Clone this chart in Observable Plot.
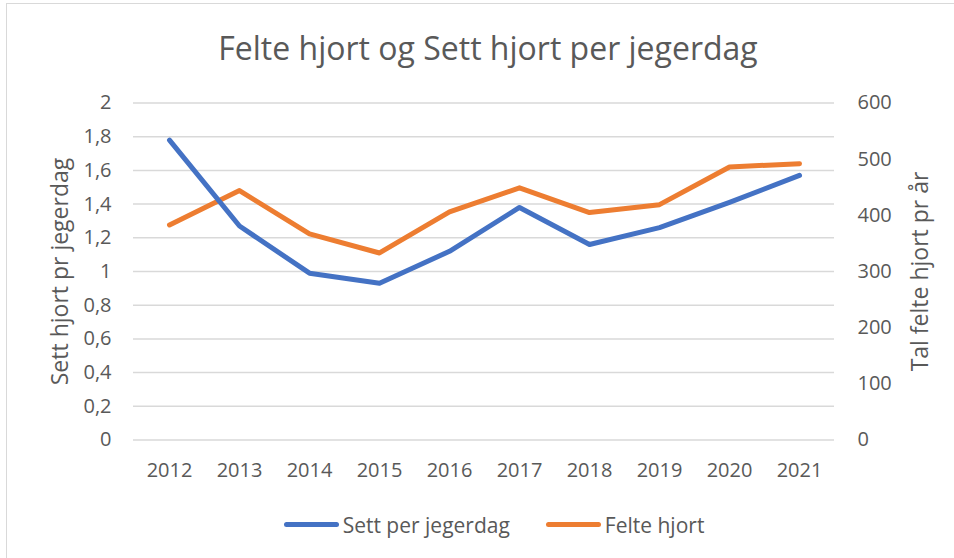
<!DOCTYPE html>
<html>
<head>
<meta charset="utf-8">
<script src="https://cdn.jsdelivr.net/npm/d3@7"></script>
<script src="https://cdn.jsdelivr.net/npm/@observablehq/plot@0.6"></script>
<style>
  html, body { margin: 0; padding: 0; background: #fff; }
  #wrap { position: relative; width: 954px; height: 558px; overflow: hidden; font-family: "Open Sans", sans-serif; }
  #border { position: absolute; left: 6px; top: 3px; width: 1000px; height: 600px; border: 1.5px solid #d9d9d9; box-sizing: border-box; pointer-events: none; }
  #legend { position: absolute; left: 17px; top: 500px; width: 954px; height: 49px; display: flex; justify-content: center; align-items: center; font-size: 21px; color: #595959; }
  .item { display: flex; align-items: center; }
  .sw { width: 55px; height: 5px; border-radius: 3px; margin-right: 4px; }
</style>
</head>
<body>
<div id="wrap">
  <div id="chart"></div>
  <div id="legend"></div>
  <div id="border"></div>
</div>
<script>
const years = [2012, 2013, 2014, 2015, 2016, 2017, 2018, 2019, 2020, 2021];
const settPerJegerdag = [1.78, 1.27, 0.99, 0.93, 1.12, 1.38, 1.16, 1.26, 1.41, 1.57];
const felteHjort = [383, 444, 367, 333, 406, 449, 405, 419, 486, 492];
const leftTicks = [0, 0.2, 0.4, 0.6, 0.8, 1, 1.2, 1.4, 1.6, 1.8, 2];
const rightTicks = [0, 100, 200, 300, 400, 500, 600];
const seriesNames = ["Sett per jegerdag", "Felte hjort"];
const seriesColors = ["#4472C4", "#ED7D31"];
const titleText = "Felte hjort og Sett hjort per jegerdag";
const leftTitle = "Sett hjort pr jegerdag";
const rightTitle = "Tal felte hjort pr år";

const leftMax = leftTicks[leftTicks.length - 1];
const rightMax = rightTicks[rightTicks.length - 1];
const ratio = leftMax / rightMax;

const sett = years.map((y, i) => ({year: y, v: settPerJegerdag[i]}));
const felte = years.map((y, i) => ({year: y, v: felteHjort[i] * ratio}));

const textColor = "#595959";

const chart = Plot.plot({
  width: 954,
  height: 500,
  marginLeft: 133,
  marginRight: 120,
  marginTop: 102.5,
  marginBottom: 60.5,
  style: {fontFamily: "'Open Sans', sans-serif", color: textColor, background: "transparent"},
  x: {type: "point", domain: years, padding: 0.5},
  y: {domain: [0, leftMax]},
  marks: [
    Plot.ruleY(leftTicks, {stroke: "#d9d9d9", strokeWidth: 1.5}),
    Plot.axisX({tickSize: 0, tickPadding: 23, fontSize: 20, tickFormat: d => String(d), label: null}),
    Plot.axisY({anchor: "left", ticks: leftTicks, tickSize: 0, tickPadding: 22, fontSize: 20,
      tickFormat: d => String(d).replace(".", ","), label: null}),
    Plot.axisY({anchor: "right", ticks: rightTicks.map(t => t * ratio), tickSize: 0, tickPadding: 23, fontSize: 20,
      tickFormat: d => String(Math.round(d / ratio)), label: null}),
    Plot.lineY(felte, {x: "year", y: "v", stroke: seriesColors[1], strokeWidth: 5, strokeLinecap: "round", strokeLinejoin: "round"}),
    Plot.lineY(sett, {x: "year", y: "v", stroke: seriesColors[0], strokeWidth: 5, strokeLinecap: "round", strokeLinejoin: "round"}),
    Plot.text([titleText], {frameAnchor: "top", dx: 4, dy: -53.7, fontSize: 32, lineAnchor: "middle", textAnchor: "middle", fill: textColor}),
    Plot.text([leftTitle], {frameAnchor: "left", dx: -73, rotate: -90, fontSize: 23, lineAnchor: "middle", textAnchor: "middle", fill: textColor}),
    Plot.text([rightTitle], {frameAnchor: "right", dx: 86, rotate: -90, fontSize: 23, lineAnchor: "middle", textAnchor: "middle", fill: textColor})
  ]
});
document.getElementById("chart").appendChild(chart);

const legend = document.getElementById("legend");
seriesNames.forEach((name, i) => {
  const item = document.createElement("div");
  item.className = "item";
  if (i > 0) item.style.marginLeft = "36px";
  const sw = document.createElement("div");
  sw.className = "sw";
  sw.style.background = seriesColors[i];
  const label = document.createElement("span");
  label.textContent = name;
  item.appendChild(sw);
  item.appendChild(label);
  legend.appendChild(item);
});
</script>
</body>
</html>
